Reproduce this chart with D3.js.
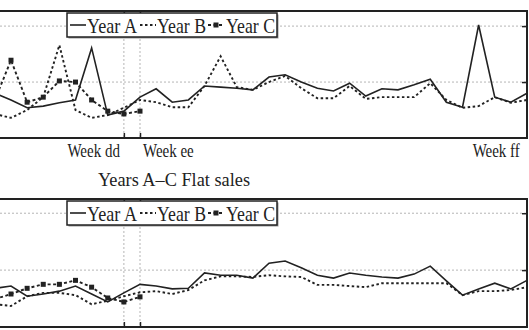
<!DOCTYPE html>
<html>
<head>
<meta charset="utf-8">
<script src="https://cdn.jsdelivr.net/npm/d3@7"></script>
<style>
  body { margin: 0; background: #fff; overflow: hidden; }
  svg { display: block; font-family: "Liberation Serif", "Times New Roman", serif; }
</style>
</head>
<body>
<div id="chart"></div>
<script>
"use strict"

// week numbers along the x axis (week 1 sits just off the left edge)
const weeks = [1,2,3,4,5,6,7,8,9,10,11,12,13,14,15,16,17,18,19,20,21,22,23,24,25,26,27,28,29,30,31,32,33,34];
const seriesNames = ["Year A", "Year B", "Year C"];
const weekMarks = [9, 10];
const weekLabels = ["Week dd", "Week ee", "Week ff"];
const weekLabelWeeks = [9, 10, 31];
const yTicks = [2, 3];
const panelTitle = "Years A\u2013C Flat sales";

// upper panel
const topA = [1.80,1.68,1.54,1.57,1.63,1.68,2.61,1.41,1.48,1.73,1.88,1.64,1.68,1.93,1.91,1.89,1.86,2.09,2.13,2.00,1.89,1.84,1.98,1.75,1.88,1.86,1.95,2.05,1.64,1.55,3.02,1.73,1.64,1.80];
const topB = [1.43,1.36,1.50,1.73,2.66,1.50,1.36,1.41,1.54,1.68,1.64,1.55,1.55,1.93,2.46,1.91,1.86,2.00,2.11,1.89,1.71,1.71,1.93,1.70,1.73,1.73,1.73,1.98,1.68,1.54,1.57,1.73,1.63,1.68];
const topC = [1.68,2.39,1.64,1.73,2.02,2.00,1.68,1.48,1.43,1.48];

// lower panel
const botA = [1.68,1.72,1.54,1.58,1.63,1.72,1.58,1.44,1.60,1.75,1.72,1.67,1.68,1.95,1.91,1.91,1.86,2.12,2.16,2.04,1.91,1.86,1.95,1.91,1.88,1.86,1.93,2.07,1.81,1.56,1.67,1.77,1.67,1.82];
const botB = [1.40,1.37,1.54,1.60,1.60,1.56,1.40,1.46,1.54,1.61,1.63,1.58,1.65,1.82,1.89,1.89,1.88,1.91,1.89,1.88,1.74,1.74,1.72,1.70,1.77,1.77,1.77,1.77,1.77,1.56,1.63,1.63,1.65,1.70];
const botC = [1.49,1.58,1.68,1.75,1.75,1.82,1.70,1.51,1.44,1.53];

const width = 529;
const height = 330;
const plotLeft = -20;
const plotRight = 527;
const ink = "#222";

const svg = d3.select("#chart").append("svg")
  .attr("width", width)
  .attr("height", height);

const x = d3.scaleLinear()
  .domain([2, 34])
  .range([11, 527]);

drawPanel({top: 11, bottom: 138, domain: [1, 3.27], series: [topA, topB, topC]});
drawPanel({top: 199, bottom: 327, domain: [1, 3.25], series: [botA, botB, botC]});

// week labels under the upper panel
const labelAnchor = ["end", "start", "start"];
const labelShift = [-4, 3, -6];
weekLabels.forEach((t, k) => {
  stretchedText(x(weekLabelWeeks[k]) + labelShift[k], 157, t, 15, labelAnchor[k]);
});

// title of the lower panel
stretchedText(98, 186, panelTitle, 15.5, "start", svg, 152);

function drawPanel(p) {
  const y = d3.scaleLinear()
    .domain(p.domain)
    .range([p.bottom, p.top]);

  const g = svg.append("g");

  // dotted grid
  g.selectAll(".hgrid")
    .data(yTicks)
    .enter().append("line")
      .attr("x1", plotLeft).attr("x2", plotRight)
      .attr("y1", d => y(d)).attr("y2", d => y(d))
      .attr("stroke", "#b5b5b5")
      .attr("stroke-width", 1)
      .attr("stroke-dasharray", "2,2");

  g.selectAll(".vgrid")
    .data(weekMarks)
    .enter().append("line")
      .attr("x1", d => x(d)).attr("x2", d => x(d))
      .attr("y1", p.top).attr("y2", p.bottom)
      .attr("stroke", "#b5b5b5")
      .attr("stroke-width", 1)
      .attr("stroke-dasharray", "2,2");

  // series lines
  const line = d3.line()
    .x((d, i) => x(weeks[i]))
    .y(d => y(d));

  const styles = [
    {dash: null, w: 1.6},
    {dash: "2.5,2.5", w: 1.9},
    {dash: "3,2.5", w: 1.9}
  ];

  p.series.forEach((s, k) => {
    g.append("path")
      .datum(s)
      .attr("fill", "none")
      .attr("stroke", ink)
      .attr("stroke-width", styles[k].w)
      .attr("stroke-dasharray", styles[k].dash)
      .attr("d", line);
  });

  // square markers on Year C
  g.selectAll(".mark")
    .data(p.series[2])
    .enter().append("rect")
      .attr("x", (d, i) => x(weeks[i]) - 2.5)
      .attr("y", d => y(d) - 2.5)
      .attr("width", 5)
      .attr("height", 5)
      .attr("fill", ink);

  // frame (left side is off the page)
  g.append("rect")
    .attr("x", plotLeft)
    .attr("y", p.top)
    .attr("width", plotRight - plotLeft)
    .attr("height", p.bottom - p.top)
    .attr("fill", "none")
    .attr("stroke", ink)
    .attr("stroke-width", 2);

  // inward ticks
  const axisBottom = d3.axisBottom(x).tickValues(weekMarks).tickSize(-5).tickFormat("");
  const axisTop = d3.axisTop(x).tickValues(weekMarks).tickSize(-5).tickFormat("");
  const axisRight = d3.axisRight(y).tickValues(yTicks).tickSize(-5).tickFormat("");

  [
    g.append("g").attr("transform", `translate(0,${p.bottom})`).call(axisBottom),
    g.append("g").attr("transform", `translate(0,${p.top})`).call(axisTop),
    g.append("g").attr("transform", `translate(${plotRight},0)`).call(axisRight)
  ].forEach(a => {
    a.select(".domain").remove();
    a.selectAll("line").attr("stroke", ink).attr("stroke-width", 1.5);
  });

  // legend
  const lx = 67, ly = p.top + 2, lw = 210, lh = 24;
  const leg = g.append("g");
  leg.append("rect")
    .attr("x", lx + 1.5).attr("y", ly + 1.5)
    .attr("width", lw).attr("height", lh)
    .attr("fill", "#999");
  leg.append("rect")
    .attr("x", lx).attr("y", ly)
    .attr("width", lw).attr("height", lh)
    .attr("fill", "#fff")
    .attr("stroke", ink)
    .attr("stroke-width", 1.5);

  const sampleX = [70, 140, 208];
  const textX = [87, 157, 226];
  const textW = [50, 49, 49];
  const my = ly + lh / 2;
  seriesNames.forEach((name, k) => {
    leg.append("line")
      .attr("x1", sampleX[k]).attr("x2", sampleX[k] + 16)
      .attr("y1", my).attr("y2", my)
      .attr("stroke", ink)
      .attr("stroke-width", styles[k].w)
      .attr("stroke-dasharray", styles[k].dash);
    if (k == 2) {
      leg.append("rect")
        .attr("x", sampleX[k] + 8 - 2.5).attr("y", my - 2.5)
        .attr("width", 5).attr("height", 5)
        .attr("fill", ink);
    }
    stretchedText(textX[k], ly + 19.5, name, 17.5, "start", leg, textW[k]);
  });
}

function stretchedText(tx, ty, t, size, anchor, parent, len) {
  // the reference text is a little taller than it is wide
  const txt = (parent || svg).append("g")
    .attr("transform", `translate(${tx},${ty}) scale(1,1.2)`)
    .append("text")
      .attr("font-size", size)
      .attr("fill", ink)
      .attr("text-anchor", anchor)
      .text(t);
  if (len) {
    txt.attr("textLength", len).attr("lengthAdjust", "spacingAndGlyphs");
  }
}
</script>
</body>
</html>
